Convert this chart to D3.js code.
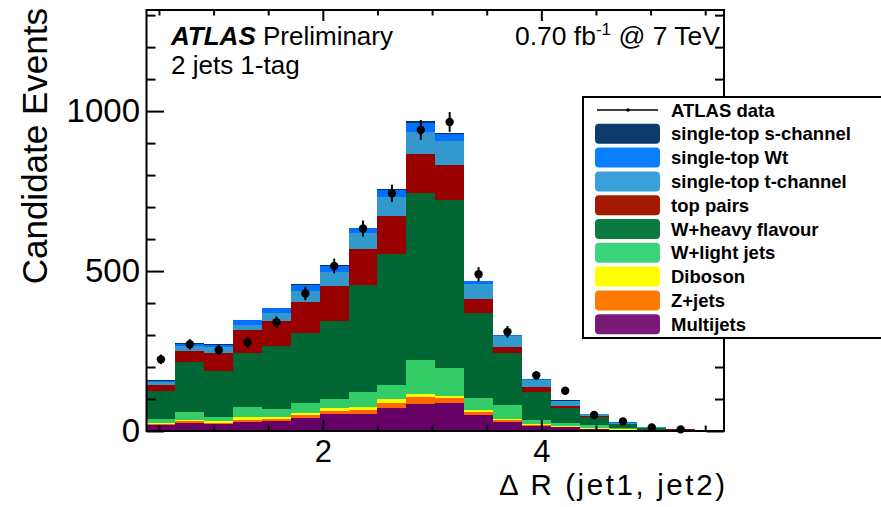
<!DOCTYPE html>
<html><head><meta charset="utf-8">
<script src="https://cdn.jsdelivr.net/npm/d3@7"></script>
<style>
body{margin:0;background:#fff}
svg{display:block}
text{font-family:"Liberation Sans",Arial,Helvetica,sans-serif;fill:#000}
</style>
</head><body>
<svg id="c" width="881" height="507"></svg>
<script>
// ---- data ----
const binEdges = [0.386,0.650,0.915,1.179,1.443,1.708,1.972,2.236,2.500,2.765,3.029,
                  3.293,3.558,3.822,4.086,4.351,4.615,4.879,5.143,5.408,5.672];
const multijets = [19,26,21,29,31,42,52,54,71,84,88,51,29,16,12,5,3,1,0.5,0.2];
const zjets     = [3,4,5,6,7,7,11,12,15,21,15,7,5,3,2,2,1,0.5,0.2,0.1];
const diboson   = [4,5,5,8,5,8,9,9,14,11,7,7,4,3,2,2,1,0.5,0.2,0.2];
const wlight    = [11,25,13,31,25,29,28,48,44,107,86,39,42,12,10,9,4,1,0.6,0.2];
const wheavy    = [88,155,144,169,198,219,245,333,409,520,526,264,163,89,46,26,12,7,3,0.8];
const ttbar     = [20,35,56,72,78,99,108,114,118,122,108,44,20,13,6,3,1,0.5,0.3,0.1];
const stT       = [8,16,18,16,26,33,45,48,61,70,76,48,34,23,16,6,4,2.5,1.2,0.4];
const stWt      = [3,6,8,15,13,19,19,15,22,27,21,8,2,2,1,1,1,0.3,0.2,0.1];
const stS       = [2,2,2,2,2,3,3,3,4,7,5,2,1,1,1,0.5,0.3,0.2,0.1,0.1];
const dataCounts = [224,271,253,277,340,430,516,633,743,941,966,490,310,174,126,50,30,11,5,null];
const dataErr    = [15,16,16,17,18,21,23,25,27,31,31,22,18,13,11,7,5.5,3.3,2.2,null];

const seriesKeys   = ["multijets","zjets","diboson","wlight","wheavy","ttbar","stT","stWt","stS"];
const seriesLabels = ["Multijets","Z+jets","Diboson","W+light jets","W+heavy flavour","top pairs",
                      "single-top t-channel","single-top Wt","single-top s-channel"];
const seriesColors = ["#660066","#ff6600","#ffff00","#33cc66","#006633","#990000","#3399cc","#0070ff","#003366"];
const legendColors = ["#7a1a78","#ff7a00","#ffff00","#3ad47a","#0a7a40","#a31a00","#3aa0d9","#0a80ff","#0d3b6e"];

const xMajor = [2,4];
const xMinor = [0.5,1,1.5,2.5,3,3.5,4.5,5,5.5];
const yMajor = [0,500,1000];
const yMinor = [100,200,300,400,600,700,800,900,1100,1200,1300];

// ---- layout ----
const svg = d3.select("#c");
const L = 146.5, R = 724, T = 10, B = 431;
const x = d3.scaleLinear().domain([0.386, 5.672]).range([L, R]);
const y = d3.scaleLinear().domain([0, 1316]).range([B, T]);

const series = {multijets, zjets, diboson, wlight, wheavy, ttbar, stT, stWt, stS};
const rows = binEdges.slice(0, -1).map((lo, i) => {
  const r = {lo, hi: binEdges[i + 1]};
  seriesKeys.forEach(k => r[k] = series[k][i]);
  return r;
});
const stacked = d3.stack().keys(seriesKeys)(rows);

const gBars = svg.append("g").attr("shape-rendering", "crispEdges");
stacked.forEach((layer, li) => {
  gBars.selectAll(null).data(layer).enter().append("rect")
    .attr("x", d => x(d.data.lo))
    .attr("width", d => x(d.data.hi) - x(d.data.lo))
    .attr("y", d => y(d[1]))
    .attr("height", d => Math.max(0, y(d[0]) - y(d[1])))
    .attr("fill", seriesColors[li]);
});

// data points
const pts = rows.map((r, i) => ({c: (r.lo + r.hi) / 2, v: dataCounts[i], e: dataErr[i]}))
  .filter(d => d.v != null);
const gData = svg.append("g");
gData.selectAll("line").data(pts).enter().append("line")
  .attr("x1", d => x(d.c)).attr("x2", d => x(d.c))
  .attr("y1", d => y(d.v - d.e)).attr("y2", d => y(d.v + d.e))
  .attr("stroke", "#000").attr("stroke-width", 2);
gData.selectAll("circle").data(pts).enter().append("circle")
  .attr("cx", d => x(d.c)).attr("cy", d => y(d.v)).attr("r", 4.2).attr("fill", "#000");

// axes (ticks inward)
function axisG(axis, tx, ty) {
  const g = svg.append("g").attr("transform", `translate(${tx},${ty})`).call(axis);
  g.select(".domain").remove();
  g.selectAll(".tick line").attr("stroke", "#000").attr("stroke-width", 2);
  return g;
}
const fmtNone = () => "";
// bottom
axisG(d3.axisBottom(x).tickValues(xMinor).tickSize(-5.5).tickFormat(fmtNone), 0, B);
const gxb = axisG(d3.axisBottom(x).tickValues(xMajor).tickSize(-11).tickPadding(9).tickFormat(d3.format("d")), 0, B);
gxb.selectAll("text").attr("font-size", 31).attr("fill", "#000");
// top
axisG(d3.axisTop(x).tickValues(xMinor).tickSize(-5.5).tickFormat(fmtNone), 0, T);
axisG(d3.axisTop(x).tickValues(xMajor).tickSize(-11).tickFormat(fmtNone), 0, T);
// left
axisG(d3.axisLeft(y).tickValues(yMinor).tickSize(-9).tickFormat(fmtNone), L, 0);
const gyl = axisG(d3.axisLeft(y).tickValues(yMajor).tickSize(-17.5).tickPadding(6.5).tickFormat(d3.format("d")), L, 0);
gyl.selectAll("text").attr("font-size", 33).attr("fill", "#000");
// right
axisG(d3.axisRight(y).tickValues(yMinor).tickSize(-9).tickFormat(fmtNone), R, 0);
axisG(d3.axisRight(y).tickValues(yMajor).tickSize(-17.5).tickFormat(fmtNone), R, 0);

// frame
svg.append("rect").attr("x", L).attr("y", T).attr("width", R - L).attr("height", B - T)
  .attr("fill", "none").attr("stroke", "#000").attr("stroke-width", 2);

// axis titles
svg.append("text").attr("x", 725).attr("y", 495).attr("text-anchor", "end")
  .attr("font-size", 29.5).attr("textLength", 226).attr("lengthAdjust", "spacing")
  .text("\u0394 R (jet1, jet2)");
svg.append("text").attr("transform", "translate(47,8) rotate(-90)").attr("text-anchor", "end")
  .attr("font-size", 35).text("Candidate Events");

// labels in plot
const t1 = svg.append("text").attr("x", 171).attr("y", 45).attr("font-size", 26);
t1.append("tspan").attr("font-weight", "bold").attr("font-style", "italic").text("ATLAS");
t1.append("tspan").text(" Preliminary");
svg.append("text").attr("x", 171).attr("y", 74).attr("font-size", 26).text("2 jets 1-tag");
const t2 = svg.append("text").attr("x", 720).attr("y", 45).attr("font-size", 26.5).attr("text-anchor", "end");
t2.append("tspan").text("0.70 fb");
t2.append("tspan").attr("font-size", 17).attr("dy", -10).text("-1");
t2.append("tspan").attr("dy", 10).text(" @ 7 TeV");

// legend
const lg = svg.append("g");
lg.append("rect").attr("x", 583).attr("y", 97).attr("width", 320).attr("height", 241)
  .attr("fill", "#fff").attr("stroke", "#000").attr("stroke-width", 2);
const rowY = i => 110 + i * 23.8;
lg.append("line").attr("x1", 597).attr("x2", 658).attr("y1", rowY(0)).attr("y2", rowY(0))
  .attr("stroke", "#000").attr("stroke-width", 1.5);
lg.append("circle").attr("cx", 628).attr("cy", rowY(0)).attr("r", 1.8).attr("fill", "#000");
lg.append("text").attr("x", 671).attr("y", rowY(0) + 6.5).attr("font-size", 18.5).attr("font-weight", "bold")
  .text("ATLAS data");
const legItems = seriesKeys.map((k, i) => ({label: seriesLabels[i], color: legendColors[i]})).reverse();
legItems.forEach((d, j) => {
  const cy = rowY(j + 1);
  lg.append("rect").attr("x", 595).attr("y", cy - 10).attr("width", 65).attr("height", 20)
    .attr("rx", 4).attr("fill", d.color);
  lg.append("text").attr("x", 671).attr("y", cy + 6.5).attr("font-size", 18.5).attr("font-weight", "bold")
    .text(d.label);
});
</script>
</body></html>
